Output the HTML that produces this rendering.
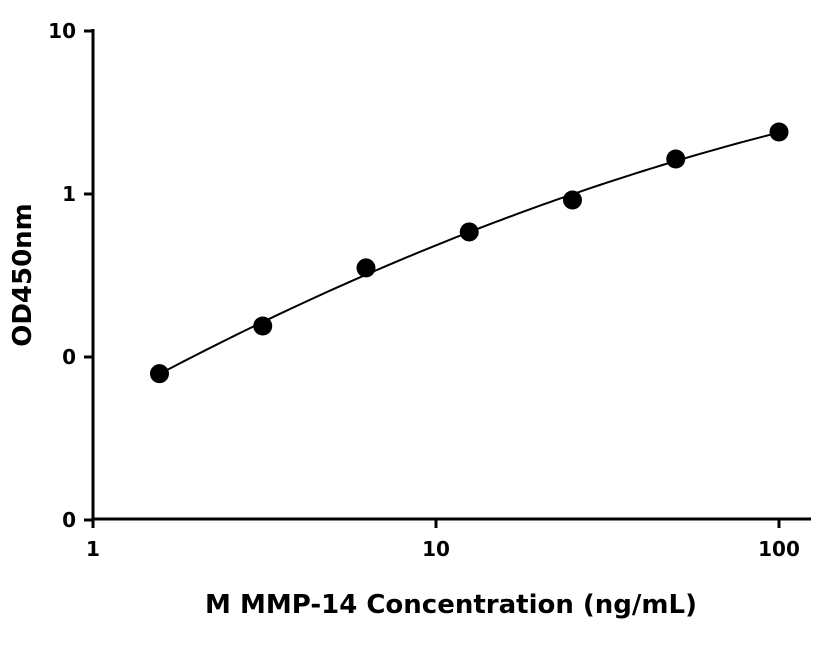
<!DOCTYPE html>
<html><head><meta charset="utf-8"><style>
body{margin:0;background:#fff;}
svg text{font-family:"DejaVu Sans","Liberation Sans",sans-serif;font-weight:bold;fill:#000;}
</style></head><body>
<svg id="chart" width="816" height="640" viewBox="0 0 816 640" xmlns="http://www.w3.org/2000/svg"></svg>
<script>
const concentrations=[1.5625,3.125,6.25,12.5,25,50,100];
const odValues=[0.079,0.155,0.352,0.585,0.919,1.64,2.40];
const xTicks=[1,10,100];
const xTickLabels=["1","10","100"];
const yTicks=[10,1,0.1,0.01];
const yTickLabels=["10","1","0","0"];

const svg=document.getElementById('chart');
const NS="http://www.w3.org/2000/svg";
const x0=93,xDec=343,yTop=31,yDec=163;
function xs(v){return x0+Math.log10(v)*xDec;}
function ys(v){return yTop+(1-Math.log10(v))*yDec;}
function mk(tag,attrs,parent){const e=document.createElementNS(NS,tag);for(const k in attrs)e.setAttribute(k,attrs[k]);(parent||svg).appendChild(e);return e;}

const axes=mk('g',{});


const yAxis=mk('line',{x1:x0,y1:29,x2:x0,y2:520.5,stroke:'#000','stroke-width':3},axes);


const xAxis=mk('line',{x1:91.5,y1:519,x2:811,y2:519,stroke:'#000','stroke-width':3},axes);



yTicks.forEach((v,i)=>{
  const y=ys(v);
  const t=mk('line',{x1:84,y1:y,x2:x0,y2:y,stroke:'#000','stroke-width':3},axes);
  
  
  const l=mk('text',{x:76,y:y+7,'text-anchor':'end','font-size':20},axes);
  l.textContent=yTickLabels[i];
  
  
});
xTicks.forEach((v,i)=>{
  const x=xs(v);
  const t=mk('line',{x1:x,y1:519,x2:x,y2:528,stroke:'#000','stroke-width':3},axes);
  
  
  const l=mk('text',{x:x,y:556,'text-anchor':'middle','font-size':20},axes);
  l.textContent=xTickLabels[i];
  
  
});

// quadratic least-squares fit in log-log space
const X=concentrations.map(Math.log10),Y=odValues.map(Math.log10);
let S=[0,0,0,0,0],T=[0,0,0];
X.forEach((x,i)=>{for(let k=0;k<5;k++)S[k]+=Math.pow(x,k);for(let k=0;k<3;k++)T[k]+=Math.pow(x,k)*Y[i];});
const M=[[S[0],S[1],S[2],T[0]],[S[1],S[2],S[3],T[1]],[S[2],S[3],S[4],T[2]]];
for(let i=0;i<3;i++){for(let j=i+1;j<3;j++){const f=M[j][i]/M[i][i];for(let k=i;k<4;k++)M[j][k]-=f*M[i][k];}}
const c=[0,0,0];for(let i=2;i>=0;i--){let s=M[i][3];for(let k=i+1;k<3;k++)s-=M[i][k]*c[k];c[i]=s/M[i][i];}
let d='';const a=X[0],b=X[X.length-1];
for(let i=0;i<=100;i++){const lx=a+(b-a)*i/100;const ly=c[0]+c[1]*lx+c[2]*lx*lx;d+=(i?'L':'M')+xs(Math.pow(10,lx)).toFixed(2)+','+ys(Math.pow(10,ly)).toFixed(2);}
const curve=mk('path',{d:d,fill:'none',stroke:'#000','stroke-width':2});



concentrations.forEach((v,i)=>{
  const p=mk('circle',{cx:xs(v),cy:ys(odValues[i]),r:9.5,fill:'#000'});
  
  
});

const xt=mk('text',{x:451,y:613,'text-anchor':'middle','font-size':26});
xt.textContent='M MMP-14 Concentration (ng/mL)';


const yt=mk('text',{x:0,y:0,'text-anchor':'middle','font-size':26,transform:'translate(31,275) rotate(-90)'});
yt.textContent='OD450nm';


</script>
</body></html>
